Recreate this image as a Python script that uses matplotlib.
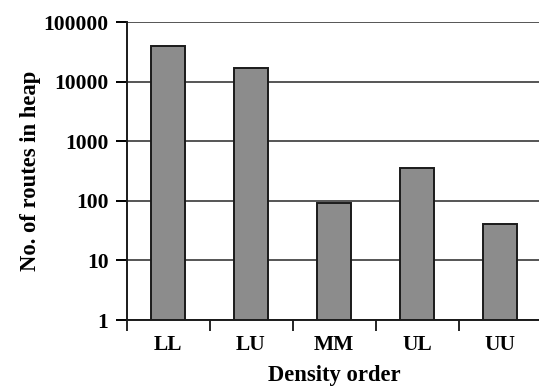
import matplotlib
matplotlib.use("Agg")
import matplotlib.pyplot as plt
from matplotlib.ticker import FixedLocator, FixedFormatter, NullLocator

categories = ["LL", "LU", "MM", "UL", "UU"]
routes = [40000, 17000, 90, 350, 40]
ytick_values = [1, 10, 100, 1000, 10000, 100000]
ytick_labels = ["1", "10", "100", "1000", "10000", "100000"]

plt.rcParams['font.family'] = ['Liberation Serif', 'DejaVu Serif']
plt.rcParams['font.weight'] = 'bold'

W, H = 539, 387
fig = plt.figure(figsize=(W / 100, H / 100), dpi=100)
ax = fig.add_axes([126.5 / W, 1 - 320 / H, 415 / W, 298 / H])

x = list(range(len(categories)))
ax.bar(x, routes, width=0.41, bottom=1, color="#8c8c8c", edgecolor="#1a1a1a",
       linewidth=1.4, zorder=3)
ax.set_yscale("log")
ax.set_ylim(1, 100000)
ax.set_xlim(-0.5, len(categories) - 0.5)

ax.yaxis.set_major_locator(FixedLocator(ytick_values))
ax.yaxis.set_major_formatter(FixedFormatter(ytick_labels))
ax.yaxis.set_minor_locator(NullLocator())
ax.grid(axis="y", color="#555555", linewidth=1.4, zorder=0)

ax.set_xticks([i - 0.5 for i in x] + [len(categories) - 0.5])
ax.set_xticklabels([])
ax.set_xticks(x, minor=True)
ax.set_xticklabels(categories, minor=True)
ax.tick_params(axis="x", which="minor", length=0, pad=11, labelsize=15.5)
ax.tick_params(axis="x", which="major", length=8, width=1.2, direction="out")
ax.tick_params(axis="y", length=8, width=1.4, pad=5, labelsize=15.5)

for s in ["top", "right"]:
    ax.spines[s].set_visible(False)
for s in ["left", "bottom"]:
    ax.spines[s].set_linewidth(1.4)
    ax.spines[s].set_color("#1a1a1a")

ax.set_xlabel("Density order", fontsize=16.3, fontweight="bold", labelpad=7)
ax.set_ylabel("No. of routes in heap", fontsize=16.3, fontweight="bold", labelpad=2)

fig.savefig("out.png", dpi=100)
